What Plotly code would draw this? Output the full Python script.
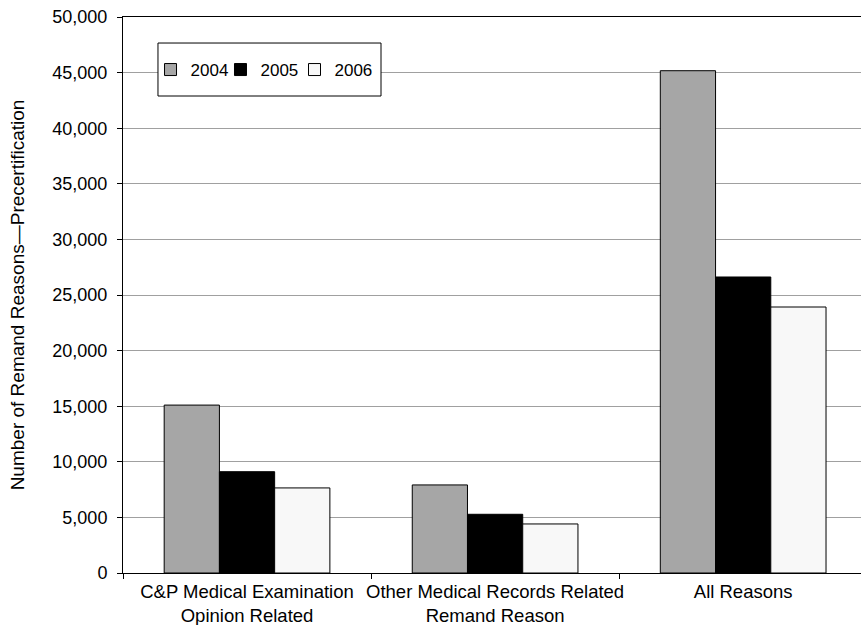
import plotly.graph_objects as go

categories = ["C&P Medical Examination<br>Opinion Related",
              "Other Medical Records Related<br>Remand Reason",
              "All Reasons"]
years = ["2004", "2005", "2006"]
values_2004 = [15100, 7920, 45170]
values_2005 = [9110, 5280, 26620]
values_2006 = [7650, 4410, 23920]
y_ticks = [0, 5000, 10000, 15000, 20000, 25000, 30000, 35000, 40000, 45000, 50000]

series = [values_2004, values_2005, values_2006]
colors = ["#a6a6a6", "#000000", "#f8f8f8"]
legend_ids = ["legend", "legend2", "legend3"]
legend_x = [0.0373, 0.1321, 0.2324]

fig = go.Figure()
for name, vals, col, lg in zip(years, series, colors, legend_ids):
    fig.add_trace(go.Bar(
        x=categories, y=vals, name=name, legend=lg,
        marker=dict(color=col, line=dict(color="#000000", width=1)),
    ))

font_family = "Liberation Sans, Arial, sans-serif"
legend_common = dict(y=0.9047, xanchor="left", yanchor="middle",
                     borderwidth=0, bgcolor="rgba(0,0,0,0)",
                     font=dict(size=17), itemwidth=30)

fig.update_layout(
    width=861, height=625,
    margin=dict(l=123, r=0, t=17, b=52),
    paper_bgcolor="white", plot_bgcolor="white",
    barmode="group", bargap=0.332, bargroupgap=0,
    font=dict(family=font_family, size=18, color="#000000"),
    showlegend=True,
    legend=dict(x=legend_x[0], **legend_common),
    legend2=dict(x=legend_x[1], **legend_common),
    legend3=dict(x=legend_x[2], **legend_common),
    shapes=[dict(type="rect", xref="paper", yref="paper",
                 x0=0.0474, x1=0.3496, y0=0.8579, y1=0.9532,
                 line=dict(color="#000000", width=1), fillcolor="white",
                 layer="above")],
    xaxis=dict(
        type="category", range=[-0.5, 2.475], automargin=False, tickangle=0,
        showline=True, linecolor="#000000", linewidth=1, mirror=True,
        ticks="outside", tickson="boundaries", ticklen=5, tickcolor="#000000",
        showgrid=False, tickfont=dict(size=18.5), ticklabelstandoff=2,
    ),
    yaxis=dict(
        range=[0, 50000], tickvals=y_ticks, tickformat=",", automargin=False,
        showline=True, linecolor="#000000", linewidth=1,
        ticks="outside", ticklen=5, tickcolor="#000000",
        showgrid=True, gridcolor="#a0a0a0", gridwidth=1,
        tickfont=dict(size=18), zeroline=False, ticklabelstandoff=6,
        title=dict(text="Number of Remand Reasons\u2014Precertification",
                   font=dict(size=19), standoff=22),
    ),
)

fig.write_html("out.html")
